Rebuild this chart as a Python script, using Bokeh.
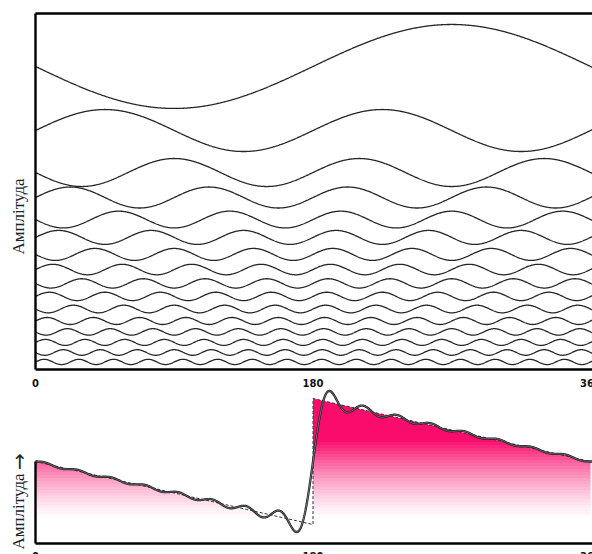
import numpy as np
from bokeh.plotting import figure
from bokeh.models import Range1d
from bokeh.core.properties import value
from bokeh.embed import file_html
from bokeh.resources import INLINE

# ---------------- data ----------------
harmonics = [1, 2, 3, 4, 5, 6, 7, 8, 9, 10, 11, 12, 13, 14, 15, 16]
coefficients = [-2.0, 1.0, -0.667, 0.5, -0.4, 0.333, -0.286, 0.25,
                -0.222, 0.2, -0.182, 0.167, -0.154, 0.143, -0.133, 0.125]
sawtooth_x = [0, 180, 180, 360]
sawtooth_y = [0, -180, 180, 0]
tick_values = [0, 180, 360]
tick_labels = ["0", "180", "360"]
y_label_top = "Амплітуда"
y_label_bottom = "Амплітуда"
y_label_arrow = "→"

# ---------------- layout (page pixels) ----------------
row_offsets = [14.43, 11.38, 9.38, 8.19, 7.14, 6.29, 5.48, 4.76,
               4.10, 3.48, 2.88, 2.31, 1.79, 1.29, 0.81, 0.36]

X0_PX, DEG_PX = 35.0, 555.0 / 360.0
TOP_ZERO_PX, TOP_UNIT = 369.0, 21.0
SAW_ZERO_PX, SAW_UNIT = 461.0, 0.35


def dx(px):
    return (px - X0_PX) / DEG_PX


def ty(py):
    return (TOP_ZERO_PX - py) / TOP_UNIT


def sy(py):
    return (SAW_ZERO_PX - py) / SAW_UNIT


W, H = 592, 554
x_end = dx(W)
p = figure(width=W, height=H, output_backend="svg", toolbar_location=None,
           x_range=Range1d(dx(0), x_end), y_range=Range1d(ty(H), ty(0)),
           x_axis_location=None, y_axis_location=None, min_border=0)
p.extra_y_ranges = {"saw": Range1d(sy(H), sy(0))}
p.grid.visible = False
p.outline_line_color = None
p.background_fill_color = "white"
p.border_fill_color = "white"

ink = "#262626"

# ---------------- top panel: harmonics ----------------
xs = np.linspace(0, x_end, 900)
for n, c, off in zip(harmonics, coefficients, row_offsets):
    ys = off + c * np.sin(np.radians(n * xs))
    p.line(xs, ys, line_color=ink, line_width=1.3)

# frame of top panel
p.segment(x0=[0, 0, 0], y0=[ty(369), ty(13), ty(369)],
          x1=[0, x_end, x_end], y1=[ty(13), ty(13), ty(369)],
          line_color="black", line_width=2.4)

p.text(x=tick_values, y=[ty(382)] * 3, text=tick_labels,
       text_align="center", text_baseline="alphabetic",
       text_font=value("DejaVu Sans"), text_font_style="bold",
       text_font_size="10px", text_color="#111")

p.text(x=[dx(18)], y=[ty(216)], text=[y_label_top], angle=np.pi / 2,
       text_align="center", text_baseline="middle",
       text_font=value("Liberation Serif"), text_font_size="17px",
       text_color="#222")

# ---------------- bottom panel: sawtooth ----------------
xl = np.linspace(sawtooth_x[0], sawtooth_x[1], 300)
xr = np.linspace(sawtooth_x[2], sawtooth_x[3], 300)
fl = np.interp(xl, sawtooth_x[:2], sawtooth_y[:2])
fr = np.interp(xr, sawtooth_x[2:], sawtooth_y[2:])

pink = np.array([250, 12, 108])
white = np.array([255, 255, 255])
band_edges = np.arange(394, 526, 3)
for a, b in zip(band_edges[:-1], band_edges[1:]):
    mid = (a + b) / 2.0
    t = np.clip((520 - mid) / (520 - 440), 0, 1) ** 1.35
    col = white * (1 - t) + pink * t
    hexcol = "#%02x%02x%02x" % tuple(int(round(v)) for v in col)
    vt, vb = sy(a - 0.6), sy(b)
    for xx, ff in ((xl, fl), (xr, fr)):
        p.varea(x=xx, y1=np.full_like(xx, vb), y2=np.clip(ff, vb, vt),
                fill_color=hexcol, y_range_name="saw")

# true sawtooth (dashed)
p.line(sawtooth_x, sawtooth_y, line_color="#333", line_width=1.0,
       line_dash="3 2", y_range_name="saw")

# partial Fourier sum
xs2 = np.linspace(0, x_end, 1200)
ssum = np.zeros_like(xs2)
for n, c in zip(harmonics, coefficients):
    ssum += c * np.sin(np.radians(n * xs2))
ssum *= 180.0 / np.pi
p.line(xs2, ssum, line_color="#1e1e1e", line_width=2.3, y_range_name="saw")
p.line(xs2, ssum, line_color="#8a8a8a", line_width=0.8, y_range_name="saw")

# bottom axis lines
p.segment(x0=[0, 0], y0=[sy(543), sy(543)], x1=[0, x_end], y1=[sawtooth_y[0], sy(543)],
          line_color="black", line_width=2.4, y_range_name="saw")

p.text(x=tick_values, y=[sy(555)] * 3, text=tick_labels,
       text_align="center", text_baseline="alphabetic",
       text_font=value("DejaVu Sans"), text_font_style="bold",
       text_font_size="10px", text_color="#111", y_range_name="saw")

p.text(x=[dx(18)], y=[ty(511)], text=[y_label_bottom], angle=np.pi / 2,
       text_align="center", text_baseline="middle",
       text_font=value("Liberation Serif"), text_font_size="17px",
       text_color="#222")
p.text(x=[dx(18)], y=[ty(461)], text=[y_label_arrow], angle=np.pi / 2,
       text_align="center", text_baseline="middle",
       text_font=value("DejaVu Sans"), text_font_size="20px",
       text_color="#222")

open("out.html", "w").write(file_html(p, INLINE))
